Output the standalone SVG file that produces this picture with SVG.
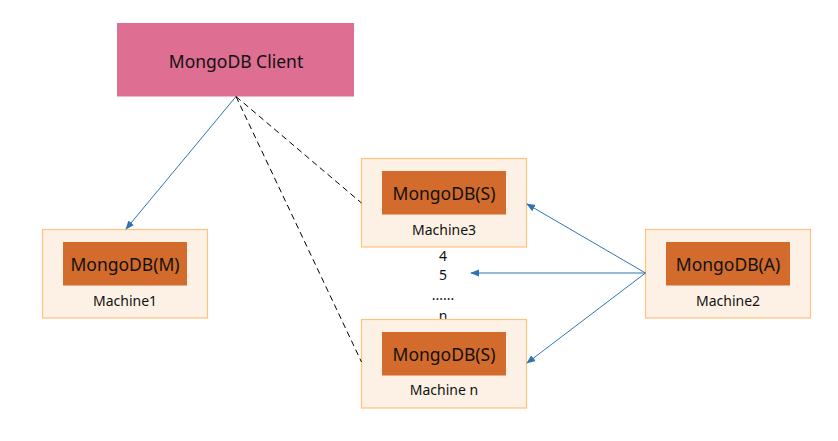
<svg xmlns="http://www.w3.org/2000/svg" width="838" height="441" viewBox="0 0 838 441">
<style>
text{font-family:"Noto Sans","Open Sans","DejaVu Sans",sans-serif;fill:#111;text-anchor:middle;dominant-baseline:central}
.outer{fill:#FDF1E5;stroke:#FFC27E;stroke-width:1.2}
.inner{fill:#D36B2C}
.db{font-size:17.5px}
.lbl{font-size:14px}
.blue{stroke:#2E75B6;stroke-width:1;fill:none}
.dash{stroke:#000;stroke-width:1;stroke-dasharray:6 4;fill:none}
</style>
<defs>
<marker id="ah" viewBox="0 0 10 10" refX="9" refY="5" markerWidth="9" markerHeight="9" markerUnits="userSpaceOnUse" orient="auto">
<path d="M0,1 L10,5 L0,9 Z" fill="#2E75B6"/>
</marker>
</defs>
<rect width="838" height="441" fill="#fff"/>
<g id="client">
<rect x="117" y="23" width="237" height="73.5" fill="#DE6F93"/>
<text x="236" y="61" font-size="17.5">MongoDB Client</text>
</g>
<g id="machine1">
<rect class="outer" x="42.5" y="229.5" width="165" height="88.5"/>
<rect class="inner" x="63" y="242" width="124" height="43.5"/>
<text class="db" x="125" y="264">MongoDB(M)</text>
<text class="lbl" x="125" y="300">Machine1</text>
</g>
<g id="labels">
<text class="lbl" x="443" y="255">4</text>
<text class="lbl" x="443" y="274">5</text>
<text class="lbl" x="443" y="294">......</text>
<text class="lbl" x="443" y="315">n</text>
</g>
<g id="machine3">
<rect class="outer" x="361.5" y="158.5" width="165" height="88.5"/>
<rect class="inner" x="382" y="171" width="124" height="43.5"/>
<text class="db" x="444" y="193">MongoDB(S)</text>
<text class="lbl" x="444" y="229">Machine3</text>
</g>
<g id="machinen">
<rect class="outer" x="361.5" y="319.5" width="165" height="88.5"/>
<rect class="inner" x="382" y="332" width="124" height="43.5"/>
<text class="db" x="444" y="354">MongoDB(S)</text>
<text class="lbl" x="444" y="389">Machine n</text>
</g>
<g id="machine2">
<rect class="outer" x="645.5" y="229.5" width="165" height="88.5"/>
<rect class="inner" x="666" y="242" width="124" height="43.5"/>
<text class="db" x="728" y="264">MongoDB(A)</text>
<text class="lbl" x="728" y="300">Machine2</text>
</g>
<g id="connectors">
<line class="blue" x1="236" y1="96.5" x2="126" y2="229" marker-end="url(#ah)"/>
<line class="dash" x1="236" y1="96.5" x2="361.5" y2="203"/>
<line class="dash" x1="236" y1="96.5" x2="361.5" y2="362"/>
<line class="blue" x1="645.5" y1="273" x2="527" y2="204" marker-end="url(#ah)"/>
<line class="blue" x1="645.5" y1="273" x2="471" y2="273" marker-end="url(#ah)"/>
<line class="blue" x1="645.5" y1="273" x2="527" y2="363" marker-end="url(#ah)"/>
</g>
</svg>
